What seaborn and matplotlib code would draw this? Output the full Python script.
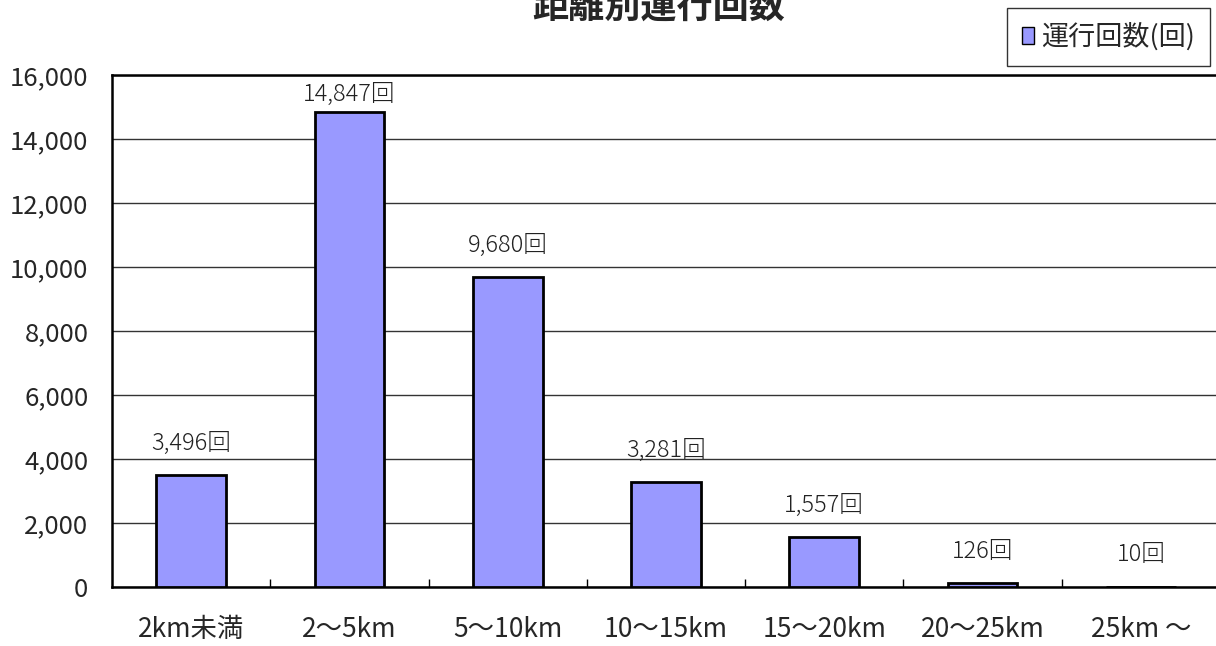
import matplotlib
matplotlib.use("Agg")
import matplotlib.pyplot as plt
import seaborn as sns
import pandas as pd
from matplotlib.ticker import FuncFormatter, MultipleLocator
from matplotlib.patches import Patch

# data
categories = ["2km未満", "2～5km", "5～10km", "10～15km", "15～20km", "20～25km", "25km ～"]
trips = [3496, 14847, 9680, 3281, 1557, 126, 10]
series_name = "運行回数(回)"
chart_title = "距離別運行回数"

sns.set_theme(style="white")
plt.rcParams['font.family'] = ['Noto Sans CJK JP', 'DejaVu Sans']

df = pd.DataFrame({"distance": categories, "count": trips})

fig = plt.figure(figsize=(12.16, 6.46), dpi=100)
ax = fig.add_axes([112 / 1216, 1 - 587 / 646, (1220 - 112) / 1216, (587 - 75) / 646])

sns.barplot(data=df, x="distance", y="count", color="#9999FF", width=0.44,
            edgecolor="black", linewidth=2.0, saturation=1, ax=ax, zorder=3)

y_max = 16000
ax.set_ylim(0, y_max)
ax.set_xlim(-0.5, len(categories) - 0.5)
ax.yaxis.set_major_locator(MultipleLocator(2000))
ax.yaxis.set_major_formatter(FuncFormatter(lambda v, p: f"{int(v):,}"))
ax.grid(axis="y", color="#333333", linewidth=1.0, zorder=0)
ax.set_axisbelow(True)

# category separator ticks on the baseline
ax.set_xticks([i + 0.5 for i in range(len(categories) - 1)], minor=True)
ax.tick_params(axis="x", which="minor", direction="in", length=6, width=1, color="black", bottom=True)
ax.tick_params(axis="x", which="major", length=0, labelsize=19, pad=21)
ax.tick_params(axis="y", which="major", length=0, labelsize=18.5, pad=17)
ax.set_xlabel("")
ax.set_ylabel("")

for side in ["left", "top", "bottom", "right"]:
    ax.spines[side].set_color("black")
ax.spines["left"].set_linewidth(1.8)
ax.spines["top"].set_linewidth(1.8)
ax.spines["bottom"].set_linewidth(1.8)

# labels sit above the bars, but are kept inside the plot area near the top
for i, v in enumerate(trips):
    y = min(v + 600, y_max - 1000)
    ax.text(i, y, f"{v:,}回", ha="center", va="bottom", fontsize=17,
            fontweight="light", color="#222222")

fig.text(659 / 1216, 1 - 7 / 646, chart_title, ha="center", va="center",
         fontsize=26, fontweight="bold")

handle = Patch(facecolor="#9999FF", edgecolor="black", linewidth=1)
leg = fig.legend([handle], [series_name], loc="upper right", bbox_to_anchor=(1210 / 1216, 1 - 8 / 646),
                 fontsize=19.5, frameon=True, fancybox=False, handlelength=0.45, handleheight=0.6,
                 handletextpad=0.25, borderpad=0.55, borderaxespad=0)
leg.get_frame().set_edgecolor("black")
leg.get_frame().set_linewidth(1)

fig.savefig("out.png", dpi=100)
